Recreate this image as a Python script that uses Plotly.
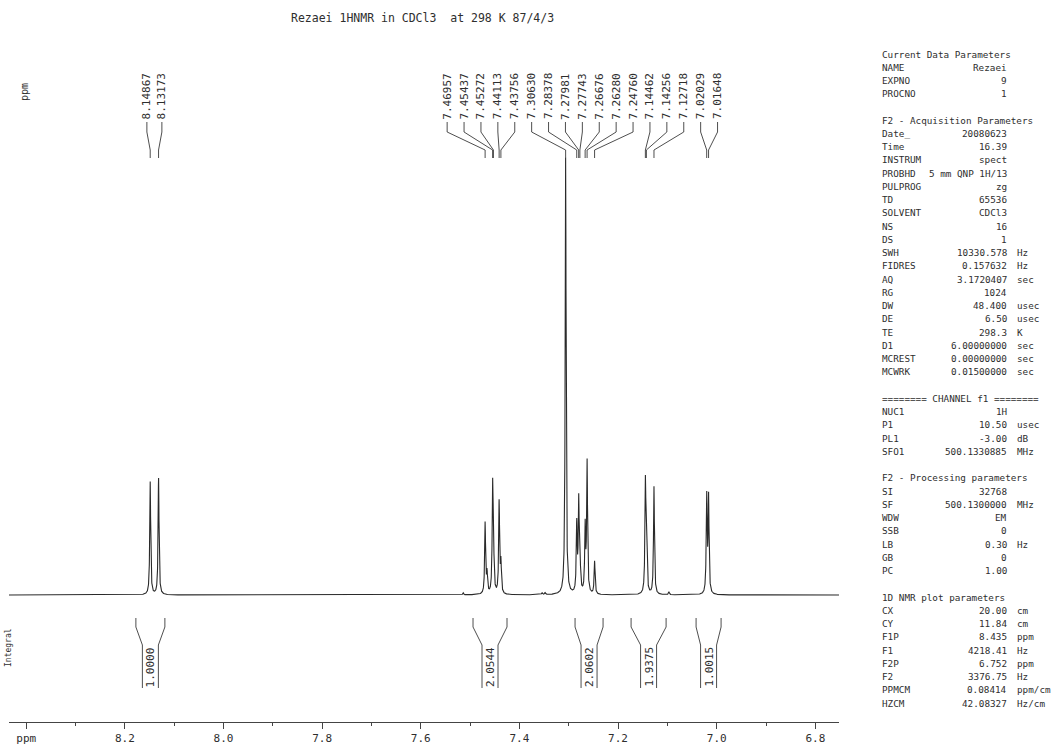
import numpy as np
import plotly.graph_objects as go

# ---------------- data ----------------
TITLE = "Rezaei 1HNMR in CDCl3  at 298 K 87/4/3"

# plotted ppm window (F1P / F2P)
PPM_LEFT = 8.435
PPM_RIGHT = 6.752

# labelled peaks (ppm) and their line intensities (relative units)
PEAK_PPM = [8.14867, 8.13173,
            7.46957, 7.45437, 7.45272, 7.44113, 7.43756,
            7.30630, 7.28378, 7.27981, 7.27743, 7.26676, 7.26280, 7.24760,
            7.14462, 7.14256, 7.12718, 7.02029, 7.01648]
PEAK_INT = [113, 117,
            71, 100, 50, 92, 30,
            437, 68, 88, 40, 65, 131, 33,
            104, 68, 108, 97, 96]
PEAK_GROUP = [0, 0] + [1] * 17

# small unlabelled features
MINOR_PPM = [7.514, 7.4657, 7.354, 7.348, 7.097]
MINOR_INT = [2, 20, 2, 2, 3]

# integrals
INT_FROM = [8.1777, 7.4941, 7.2872, 7.1736, 7.0418]
INT_TO = [8.1189, 7.4252, 7.2304, 7.1026, 6.9911]
INT_TEXT = ["1.0000", "2.0544", "2.0602", "1.9375", "1.0015"]

# axis ticks
TICK_VALS = [8.4, 8.2, 8.0, 7.8, 7.6, 7.4, 7.2, 7.0, 6.8]
TICK_TEXT = ["ppm", "8.2", "8.0", "7.8", "7.6", "7.4", "7.2", "7.0", "6.8"]
MINOR_TICK_VALS = [8.3, 8.1, 7.9, 7.7, 7.5, 7.3, 7.1, 6.9]

# parameter panel
PARAM_LABELS = ["Current Data Parameters", "NAME", "EXPNO", "PROCNO", "",
                "F2 - Acquisition Parameters", "Date_", "Time", "INSTRUM", "PROBHD",
                "PULPROG", "TD", "SOLVENT", "NS", "DS", "SWH", "FIDRES", "AQ", "RG",
                "DW", "DE", "TE", "D1", "MCREST", "MCWRK", "",
                "======== CHANNEL f1 ========", "NUC1", "P1", "PL1", "SFO1", "",
                "F2 - Processing parameters", "SI", "SF", "WDW", "SSB", "LB", "GB", "PC", "",
                "1D NMR plot parameters", "CX", "CY", "F1P", "F1", "F2P", "F2", "PPMCM", "HZCM"]
PARAM_VALUES = ["", "Rezaei", "9", "1", "",
                "", "20080623", "16.39", "spect", "5 mm QNP 1H/13",
                "zg", "65536", "CDCl3", "16", "1", "10330.578", "0.157632", "3.1720407", "1024",
                "48.400", "6.50", "298.3", "6.00000000", "0.00000000", "0.01500000", "",
                "", "1H", "10.50", "-3.00", "500.1330885", "",
                "", "32768", "500.1300000", "EM", "0", "0.30", "0", "1.00", "",
                "", "20.00", "11.84", "8.435", "4218.41", "6.752", "3376.75", "0.08414", "42.08327"]
PARAM_UNITS = ["", "", "", "", "",
               "", "", "", "", "",
               "", "", "", "", "", "Hz", "Hz", "sec", "",
               "usec", "usec", "K", "sec", "sec", "sec", "",
               "", "", "usec", "dB", "MHz", "",
               "", "", "MHz", "", "", "Hz", "", "", "",
               "", "cm", "cm", "ppm", "Hz", "ppm", "Hz", "ppm/cm", "Hz/cm"]

# ---------------- layout constants ----------------
W, H = 1052, 746
X0_PX, X1_PX = 9, 839
BASE_PX = 595           # spectrum baseline (pixel row)
AXIS_PX = 722           # ppm axis line (pixel row)
GAMMA = 0.0011          # Lorentzian half width (ppm)
FONT = "DejaVu Sans Mono"
INK = "#2e2e2e"
PX_PER_PPM = (X1_PX - X0_PX) / (PPM_LEFT - PPM_RIGHT)
LABEL_STEP_PX = {0: 15.0, 1: 16.9}


def yv(px):
    """pixel row -> y-axis value (1 unit = 1 px, 0 at baseline)"""
    return BASE_PX - px


# ---------------- spectrum ----------------
ppm = np.linspace(PPM_LEFT, PPM_RIGHT, 9000)
inten = np.zeros_like(ppm)
for p, a in zip(PEAK_PPM + MINOR_PPM, PEAK_INT + MINOR_INT):
    inten += a / (1.0 + ((ppm - p) / GAMMA) ** 2)

fig = go.Figure()
fig.add_trace(go.Scatter(x=ppm, y=inten, mode="lines",
                         line=dict(color="#2a2a2a", width=1.1), hoverinfo="skip"))

# ---------------- peak labels ----------------
lx, ly = [], []
annotations = []
peak_ppm = np.array(PEAK_PPM)
groups = np.array(PEAK_GROUP)
for g in sorted(set(PEAK_GROUP)):
    idx = np.where(groups == g)[0]
    n = len(idx)
    center = peak_ppm[idx].mean()
    step = LABEL_STEP_PX[g] / PX_PER_PPM
    for k, i in enumerate(idx):
        slot = center - (k - (n - 1) / 2) * step
        lx += [slot, slot, peak_ppm[i], peak_ppm[i], None]
        ly += [yv(122), yv(132), yv(150), yv(158), None]
        annotations.append(dict(x=slot, y=yv(96.5), xref="x", yref="y",
                                text=f"{PEAK_PPM[i]:.5f}", textangle=-90,
                                showarrow=False, xanchor="center", yanchor="middle",
                                font=dict(family=FONT, size=11, color=INK)))
fig.add_trace(go.Scatter(x=lx, y=ly, mode="lines",
                         line=dict(color="#3a3a3a", width=0.9), hoverinfo="skip"))

# ---------------- integrals ----------------
ix, iy = [], []
hw = 8.0 / PX_PER_PPM
for a, b, t in zip(INT_FROM, INT_TO, INT_TEXT):
    c = (a + b) / 2
    ix += [a, a, c + hw, c + hw, None, b, b, c - hw, c - hw, None]
    iy += [yv(618), yv(627), yv(645), yv(688), None,
           yv(618), yv(627), yv(645), yv(688), None]
    annotations.append(dict(x=c, y=yv(667), xref="x", yref="y", text=t,
                            textangle=-90, showarrow=False,
                            xanchor="center", yanchor="middle",
                            font=dict(family=FONT, size=11, color=INK)))
fig.add_trace(go.Scatter(x=ix, y=iy, mode="lines",
                         line=dict(color="#3a3a3a", width=0.9), hoverinfo="skip"))

# ---------------- texts ----------------
annotations.append(dict(x=422 / W, y=1 - 18 / H, xref="paper", yref="paper",
                        text=TITLE, showarrow=False, xanchor="center", yanchor="middle",
                        font=dict(family=FONT, size=11.5, color=INK)))
annotations.append(dict(x=25 / W, y=1 - 92 / H, xref="paper", yref="paper",
                        text="ppm", textangle=-90, showarrow=False,
                        xanchor="center", yanchor="middle",
                        font=dict(family=FONT, size=10, color=INK)))
annotations.append(dict(x=8 / W, y=1 - 648 / H, xref="paper", yref="paper",
                        text="Integral", textangle=-90, showarrow=False,
                        xanchor="center", yanchor="middle",
                        font=dict(family=FONT, size=8, color=INK)))

pfont = dict(family=FONT, size=9.3, color=INK)
for i, (lab, val, unit) in enumerate(zip(PARAM_LABELS, PARAM_VALUES, PARAM_UNITS)):
    yy = 1 - (54 + 13.245 * i) / H
    if lab:
        annotations.append(dict(x=880 / W, y=yy, xref="paper", yref="paper", text=lab,
                                showarrow=False, xanchor="left", yanchor="middle", font=pfont))
    if val:
        annotations.append(dict(x=1009 / W, y=yy, xref="paper", yref="paper", text=val,
                                showarrow=False, xanchor="right", yanchor="middle", font=pfont))
    if unit:
        annotations.append(dict(x=1015 / W, y=yy, xref="paper", yref="paper", text=unit,
                                showarrow=False, xanchor="left", yanchor="middle", font=pfont))

fig.update_layout(
    width=W, height=H,
    margin=dict(l=0, r=0, t=0, b=0),
    paper_bgcolor="white", plot_bgcolor="white",
    showlegend=False,
    annotations=annotations,
    xaxis=dict(domain=[X0_PX / W, X1_PX / W], range=[PPM_LEFT, PPM_RIGHT],
               anchor="free", position=(H - AXIS_PX) / H,
               showline=True, linecolor="#444444", linewidth=1,
               showgrid=False, zeroline=False,
               ticks="outside", ticklen=6, tickcolor="#444444", tickwidth=1,
               tickmode="array", tickvals=TICK_VALS, ticktext=TICK_TEXT,
               tickfont=dict(family=FONT, size=11, color=INK),
               minor=dict(tickmode="array", tickvals=MINOR_TICK_VALS, ticks="outside",
                          ticklen=3, tickcolor="#444444", showgrid=False),
               fixedrange=True),
    yaxis=dict(domain=[0, 1], range=[yv(H), yv(0)], visible=False,
               showgrid=False, zeroline=False, fixedrange=True),
)

fig.write_html("out.html",
               config={"displayModeBar": False},
               post_script="document.body.style.margin='0';"
                           "document.body.style.overflow='hidden';")
